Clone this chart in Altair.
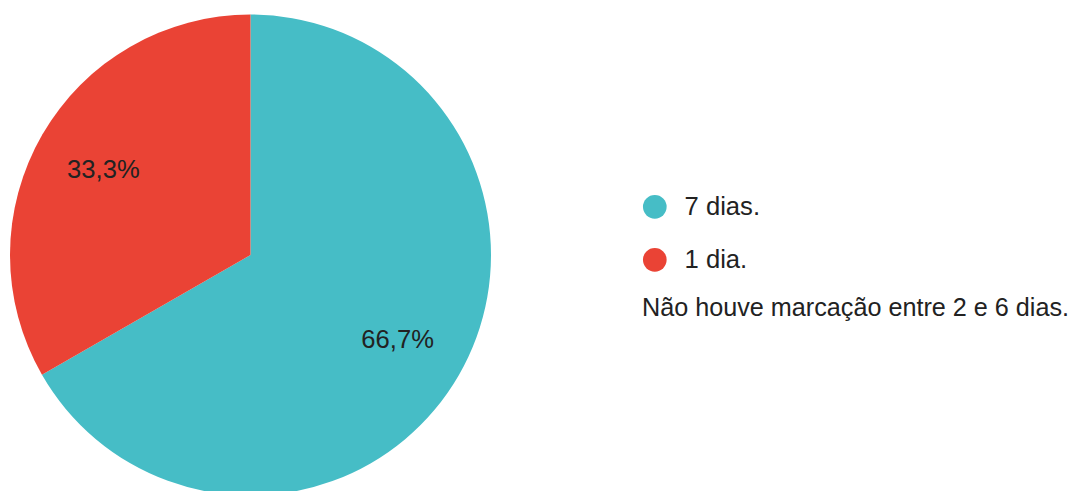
import altair as alt
import pandas as pd

categories = ["7 dias.", "1 dia."]
values = [66.7, 33.3]
labels = ["66,7%", "33,3%"]
colors = ["#46BDC6", "#EA4335"]
note = "Não houve marcação entre 2 e 6 dias."

df = pd.DataFrame({
    "cat": categories,
    "val": values,
    "label": labels,
    "ord": list(range(len(categories))),
})

FONT = "Liberation Sans"
FS = 25.6

base = alt.Chart(df).encode(
    theta=alt.Theta("val:Q", stack=True),
    order=alt.Order("ord:Q"),
    x=alt.value(242.5),
    y=alt.value(247),
)

arcs = base.mark_arc(outerRadius=240.5, stroke=None).encode(
    color=alt.Color(
        "cat:N",
        scale=alt.Scale(domain=categories, range=colors),
        legend=alt.Legend(
            orient="none",
            legendX=634,
            legendY=186,
            title=note,
            titleOrient="bottom",
            titleFontSize=25.2,
            titleFontWeight="normal",
            titleFont=FONT,
            titleColor="#222222",
            titlePadding=23,
            titleLimit=600,
            labelFontSize=FS,
            labelFont=FONT,
            labelColor="#222222",
            labelOffset=17,
            labelLimit=400,
            symbolType="circle",
            symbolSize=560,
            symbolStrokeWidth=0,
            rowPadding=26,
            padding=0,
        ),
    ),
)

text = base.mark_text(radius=170, fontSize=FS, font=FONT, color="#222222").encode(
    text="label:N"
)

chart = (
    alt.layer(arcs, text)
    .properties(width=1066, height=483, padding=0, autosize="none")
    .configure_view(stroke=None)
)

chart.save("out.html", embed_options={"renderer": "svg", "actions": False})
